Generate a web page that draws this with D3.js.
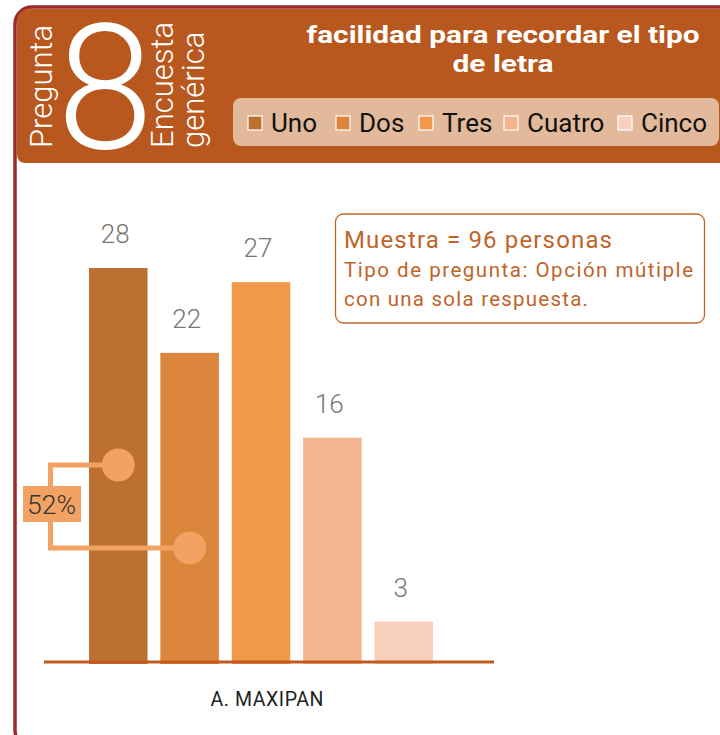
<!DOCTYPE html>
<html><head><meta charset="utf-8">
<script src="https://cdn.jsdelivr.net/npm/d3@7"></script>
<style>html,body{margin:0;padding:0;background:#fff;}svg{display:block;}</style>
</head><body>
<script>
const categories = ["Uno", "Dos", "Tres", "Cuatro", "Cinco"];
const values = [28, 22, 27, 16, 3];
const colors = ["#bc7032", "#dc853d", "#f1984b", "#f5b490", "#f8cfbb"];
const groupLabel = "A. MAXIPAN";
const sampleSize = 96;
const highlighted = [0, 1];
const titleLines = ["facilidad para recordar el tipo", "de letra"];
const infoLines = ["Muestra = 96 personas", "Tipo de pregunta: Opción mútiple", "con una sola respuesta."];

const W = 720, H = 735;
const svg = d3.select("body").append("svg").attr("width", W).attr("height", H);
const F = "Roboto, 'DejaVu Sans', sans-serif";

// frame
svg.append("rect").attr("x", 15).attr("y", 7).attr("width", 760).attr("height", 740)
  .attr("rx", 17).attr("fill", "#fff").attr("stroke", "#9b2a2a").attr("stroke-width", 3.5);
// header
svg.append("path").attr("d", "M17,22 Q17,9 31,9 L720,9 L720,163 L26,163 Q17,163 17,154 Z")
  .attr("fill", "#b9581e");

// left header texts
const rot = (x, y, txt, size) => svg.append("text").attr("transform", `translate(${x},${y}) rotate(-90)`)
  .attr("font-family", F).attr("font-weight", 300).attr("font-size", size).attr("fill", "#fff").text(txt);
rot(52, 148, "Pregunta", 31);
svg.append("text").attr("x", 105).attr("y", 148).attr("text-anchor", "middle")
  .attr("font-family", F).attr("font-weight", 300).attr("font-size", 174).attr("fill", "#fff").text("8");
rot(173, 148, "Encuesta", 31);
rot(204, 148, "genérica", 31);

// title
const titleW = [393, 101];
titleLines.forEach((t, i) => svg.append("text").attr("x", 503).attr("y", 43 + i * 29)
  .attr("text-anchor", "middle").attr("font-family", F).attr("font-weight", 700)
  .attr("font-size", 24).attr("fill", "#fff")
  .attr("textLength", titleW[i]).attr("lengthAdjust", "spacingAndGlyphs").text(t));

// legend
svg.append("rect").attr("x", 233).attr("y", 98).attr("width", 486).attr("height", 48).attr("rx", 8)
  .attr("fill", "#e2b99a");
const legendX = [248, 336, 419, 504, 618];
categories.forEach((c, i) => {
  svg.append("rect").attr("x", legendX[i]).attr("y", 116).attr("width", 14).attr("height", 14)
    .attr("fill", colors[i]).attr("stroke", "#fff").attr("stroke-width", 1.2);
  svg.append("text").attr("x", legendX[i] + 23).attr("y", 132).attr("font-family", F)
    .attr("font-size", 26).attr("fill", "#111").text(c);
});

// scales
const x = d3.scaleBand().domain(categories).range([89, 433]).paddingInner(0.18).paddingOuter(0);
const y = d3.scaleLinear().domain([0, 28]).range([664, 268]);

// bars
svg.selectAll("rect.bar").data(values).join("rect").attr("class", "bar")
  .attr("x", (d, i) => x(categories[i])).attr("width", x.bandwidth())
  .attr("y", d => y(d)).attr("height", d => y(0) - y(d)).attr("fill", (d, i) => colors[i]);
svg.selectAll("text.val").data(values).join("text").attr("class", "val")
  .attr("x", (d, i) => x(categories[i]) + x.bandwidth() / 2 - 3).attr("y", d => y(d) - 25)
  .attr("text-anchor", "middle").attr("font-family", F).attr("font-weight", 300).attr("font-size", 26)
  .attr("fill", "#777").text(d => d);

// axis line
svg.append("line").attr("x1", 44).attr("x2", 494).attr("y1", 662).attr("y2", 662)
  .attr("stroke", "#c25a1e").attr("stroke-width", 3);
svg.append("text").attr("x", 267).attr("y", 706).attr("text-anchor", "middle")
  .attr("font-family", F).attr("font-size", 19.5).attr("fill", "#222")
  .attr("textLength", 113).attr("lengthAdjust", "spacing").text(groupLabel);

// info box
svg.append("rect").attr("x", 335.5).attr("y", 214).attr("width", 369).attr("height", 109).attr("rx", 8)
  .attr("fill", "#fff").attr("stroke", "#c0642a").attr("stroke-width", 1.3);
const infoW = [268, 349, 244];
infoLines.forEach((t, i) => svg.append("text").attr("x", 344).attr("y", [248, 277, 306][i])
  .attr("font-family", F).attr("font-weight", 400).attr("font-size", i === 0 ? 24 : 20.5).attr("fill", "#c0642a")
  .attr("textLength", infoW[i]).attr("lengthAdjust", "spacing").text(t));

// 52% annotation
const pct = Math.round(d3.sum(highlighted.map(i => values[i])) / sampleSize * 100);
const ann = "#f2a262";
const cy = [465, 548];
svg.append("path").attr("d", `M${x(categories[highlighted[0]]) + x.bandwidth() / 2},${cy[0]} H50.5 V${cy[1]} H${x(categories[highlighted[1]]) + x.bandwidth() / 2}`)
  .attr("fill", "none").attr("stroke", ann).attr("stroke-width", 5);
highlighted.forEach((k, i) => svg.append("circle").attr("cx", x(categories[k]) + x.bandwidth() / 2)
  .attr("cy", cy[i]).attr("r", 16.5).attr("fill", ann));
svg.append("rect").attr("x", 23).attr("y", 486).attr("width", 58).attr("height", 36).attr("fill", ann);
svg.append("text").attr("x", 27).attr("y", 513.5)
  .attr("font-family", F).attr("font-weight", 300).attr("font-size", 26).attr("fill", "#333")
  .attr("textLength", 49).attr("lengthAdjust", "spacingAndGlyphs").text(pct + "%");
</script>
</body></html>
